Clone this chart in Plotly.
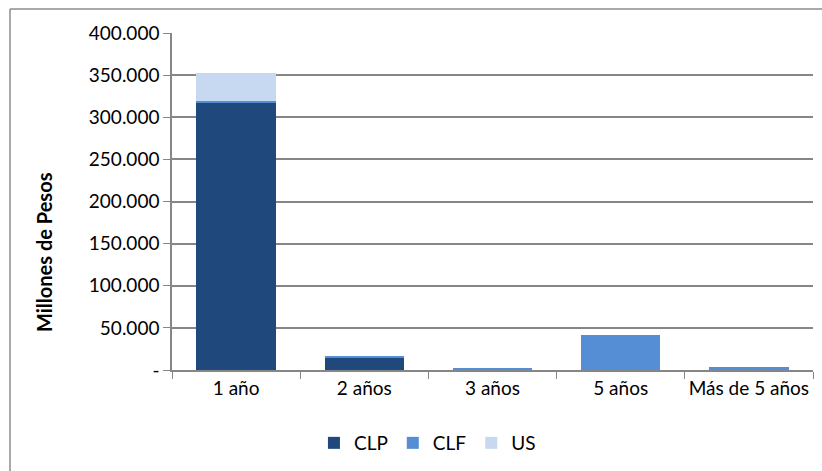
import plotly.graph_objects as go

categories = ["1 año", "2 años", "3 años", "5 años", "Más de 5 años"]
clp = [318000, 14000, 0, 0, 0]
clf = [1500, 3000, 2000, 41500, 4000]
us = [32500, 0, 0, 0, 0]
tick_vals = [0, 50000, 100000, 150000, 200000, 250000, 300000, 350000, 400000]
tick_text = ["-", "50.000", "100.000", "150.000", "200.000", "250.000", "300.000", "350.000", "400.000"]

font = "Lato, 'Liberation Sans', sans-serif"

fig = go.Figure()
fig.add_bar(name="CLP", x=categories, y=clp, marker_color="#1F497D", marker_line_width=0)
fig.add_bar(name="CLF", x=categories, y=clf, marker_color="#558ED5", marker_line_width=0)
fig.add_bar(name="US", x=categories, y=us, marker_color="#C6D9F1", marker_line_width=0)

frame_left = -162 / 641
frame_top = 1 + 24 / 337
frame_line = dict(color="#8C8C8C", width=1.5)

fig.update_layout(
    barmode="stack",
    bargap=0.38,
    width=822, height=471,
    margin=dict(l=172, r=9, t=33, b=101, autoexpand=False),
    paper_bgcolor="white", plot_bgcolor="white",
    font=dict(family=font, size=19, color="black"),
    showlegend=True,
    legend=dict(orientation="h", x=0.52, xanchor="center", xref="container",
                y=1 - 443 / 471, yanchor="middle", yref="container",
                font=dict(size=19), itemwidth=30, traceorder="normal"),
    shapes=[
        dict(type="line", xref="paper", yref="paper", x0=frame_left, x1=1.5,
             y0=frame_top, y1=frame_top, line=frame_line, layer="below"),
        dict(type="line", xref="paper", yref="paper", x0=frame_left, x1=frame_left,
             y0=-1.0, y1=frame_top, line=frame_line, layer="below"),
    ],
    annotations=[dict(text="<b>Millones de Pesos</b>", textangle=-90,
                      xref="paper", yref="paper", x=(44 - 172) / 641, y=(370 - 252) / 337,
                      xanchor="center", yanchor="middle", showarrow=False,
                      font=dict(size=20, color="black"))],
)
fig.update_xaxes(showline=True, linecolor="#868686", linewidth=1.5,
                 ticks="outside", tickson="boundaries", ticklen=7, tickcolor="#868686",
                 tickfont=dict(size=19), tickangle=0, showgrid=False)
fig.update_yaxes(range=[0, 400000], tickvals=tick_vals, ticktext=tick_text,
                 showline=True, linecolor="#868686", linewidth=1.5,
                 ticks="outside", ticklen=7, tickcolor="#868686",
                 showgrid=True, gridcolor="#868686", gridwidth=1.5,
                 tickfont=dict(size=19))

fig.write_html("out.html")
